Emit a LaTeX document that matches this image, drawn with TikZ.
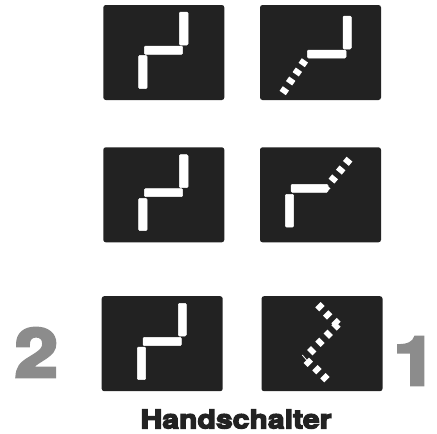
\documentclass[tikz,border=0pt]{standalone}
\usepackage{fontspec}
\usepackage{xcolor}
\usetikzlibrary{positioning}
\newfontfamily\heavyfont[FakeBold=5,FakeStretch=1.16]{TeX Gyre Heros Bold}
\definecolor{panel}{HTML}{222222}
\definecolor{digit}{HTML}{8C8C8C}
\tikzset{
  panelbox/.style={fill=panel,rounded corners=2.5pt,minimum width=121pt,minimum height=95pt,inner sep=0pt,outer sep=0pt},
  bar/.style={fill=white,draw=white,line width=.5pt,rounded corners=1.2pt},
  dotbox/.style={fill=white,minimum width=7.6pt,minimum height=5.6pt,inner sep=0pt,outer sep=0pt},
  bigdigit/.style={text=digit,inner sep=0pt,font=\heavyfont\fontsize{67}{67}\selectfont}
}
\begin{document}
\begin{tikzpicture}[x=1pt,y=-1pt]
      \useasboundingbox (0,0) rectangle (437,434);
      \node[panelbox] (a) at (163.8,52.5) {};
      \node[panelbox] (b) at (320.5,52.5) {};
      \node[panelbox] (c) at (163.8,194.8) {};
      \node[panelbox] (d) at (320.5,194.8) {};
      \node[panelbox] (e) at (162.2,343.7) {};
      \node[panelbox] (f) at (322,343.7) {};
      \foreach \xa/\ya/\xb/\yb in {179.3/12/188/45,144.3/46/182.7/54.3,138.7/55.3/147/88.7,
        343/16/351.3/49,307.3/50/346/58,
        179.3/154.7/188/187.7,144.3/188.7/182.7/196.7,138.7/198.3/147/230.7,
        285.3/194.3/293.7/227,291/184.3/328/192.3,
        178.3/303.3/186.3/336,143/337.3/181.3/345.7,137.3/347/145.7/379.7}
        \fill[bar] (\xa,\ya) rectangle (\xb,\yb);
      \fill[white] (326,184.6) -- (330.5,188.5) -- (326,192) -- cycle;
      \foreach \n/\x/\y/\r in {1/303.3/62.7/-35,2/297.3/72/-35,3/290.7/81/-35,4/284.3/90.7/-35,
        5/333.3/179/-40,6/340.7/170/-40,7/347.7/161.3/-40,
        8/320/306.7/45,9/327.7/315/45,10/336/322.5/45,11/336/326/-45,12/328.3/334.3/-45,13/320/342.3/-45,14/311.7/350.7/-45,
        15/308.3/362.3/45,16/317/369.7/45,17/325/377.7/45}
        \node[dotbox,rotate=\r] (d\n) at (\x,\y) {};
      \draw[white,line width=.8pt] (302.3,355) -- (307,360.5);
      \node[bigdigit] (two) at (36.3,352.5) {2};
      \node[bigdigit] (one) at (415,361) {1};
      \node[inner sep=0pt,font=\heavyfont\fontsize{26}{26}\selectfont,text=panel] (title) at (236,419) {Handschalter};
    \end{tikzpicture}
\end{document}
